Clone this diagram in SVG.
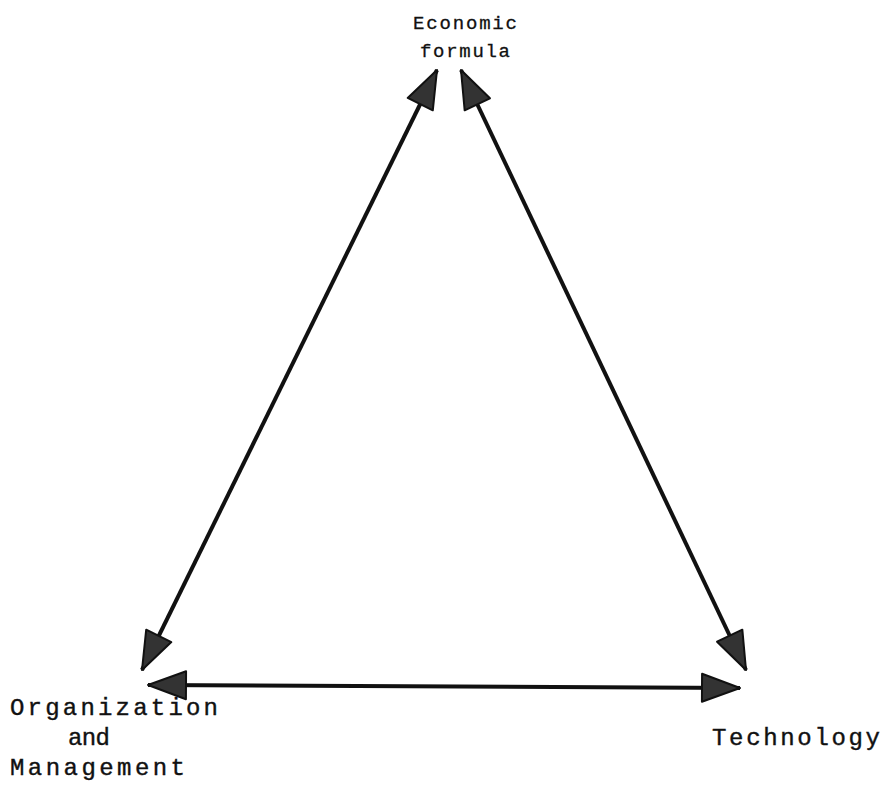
<svg xmlns="http://www.w3.org/2000/svg" width="886" height="796" viewBox="0 0 886 796">
<style>
.lbl{font-family:"Liberation Mono","DejaVu Sans Mono",monospace;font-size:24px;fill:#111;stroke:#111;stroke-width:0.4}
.top{font-size:19px;stroke-width:0.3}
.conn{stroke:#111;stroke-width:4;fill:none;marker-start:url(#ah);marker-end:url(#ah)}
</style>
<defs>
<marker id="ah" markerUnits="userSpaceOnUse" viewBox="-42 -17 46 34" refX="0" refY="0" markerWidth="46" markerHeight="34" orient="auto-start-reverse">
<path d="M0,0 L-38,-14 L-38,14 Z" fill="#333" stroke="#111" stroke-width="2" stroke-linejoin="round"/>
</marker>
</defs>
<rect width="886" height="796" fill="#fff"/>
<g id="connectors">
<line class="conn" x1="437" y1="70" x2="142" y2="670"/>
<line class="conn" x1="461" y1="70" x2="746" y2="670"/>
<line class="conn" x1="148" y1="685" x2="740" y2="688"/>
</g>
<g id="economic">
<text class="lbl top" x="413" y="29" textLength="104" lengthAdjust="spacing">Economic</text>
<text class="lbl top" x="420" y="57" textLength="90" lengthAdjust="spacing">formula</text>
</g>
<g id="organization">
<text class="lbl" x="10" y="715" textLength="208" lengthAdjust="spacing">Organization</text>
<text class="lbl" x="68" y="745" textLength="42" lengthAdjust="spacing">and</text>
<text class="lbl" x="10" y="775" textLength="175" lengthAdjust="spacing">Management</text>
</g>
<g id="technology">
<text class="lbl" x="712" y="745" textLength="168" lengthAdjust="spacing">Technology</text>
</g>
</svg>
